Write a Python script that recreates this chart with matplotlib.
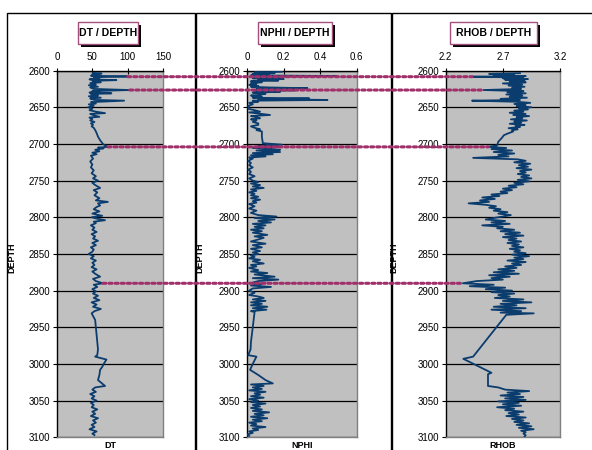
import matplotlib
matplotlib.use('Agg')
import matplotlib.pyplot as plt
from matplotlib.patches import Rectangle, ConnectionPatch

plt.rcParams['font.family'] = ['Liberation Sans', 'DejaVu Sans']

# ---------------- data ----------------
dt_depth = [2603, 2604, 2605, 2606, 2607, 2608, 2609, 2611, 2612, 2613, 2614, 2616, 2617, 2619, 2620,
            2622, 2623, 2625, 2626.5, 2628, 2629, 2630, 2631, 2632, 2634, 2635, 2637, 2638, 2640, 2641,
            2643, 2645, 2646, 2648, 2650, 2652, 2654, 2656, 2658, 2659, 2661, 2663, 2664, 2666, 2668,
            2670, 2672, 2674, 2676, 2678, 2681, 2685, 2690, 2695, 2700, 2702, 2704, 2705, 2706, 2708,
            2710, 2712, 2714, 2716, 2720, 2724, 2728, 2732, 2736, 2740, 2744, 2747, 2750, 2753, 2756,
            2760, 2763, 2766, 2770, 2774, 2777, 2779, 2781, 2784, 2786, 2789, 2792, 2795, 2798, 2800,
            2802, 2804, 2806, 2808, 2811, 2814, 2817, 2820, 2823, 2826, 2829, 2832, 2835, 2838, 2841,
            2844, 2847, 2850, 2853, 2856, 2859, 2862, 2865, 2868, 2871, 2874, 2877, 2881, 2884, 2887,
            2890, 2892, 2895, 2898, 2901, 2904, 2907, 2910, 2913, 2916, 2919, 2922, 2925, 2928, 2931,
            2940, 2950, 2960, 2970, 2980, 2988, 2990, 2994, 3000, 3004, 3008, 3015, 3022, 3030, 3032,
            3035, 3038, 3041, 3044, 3047, 3050, 3053, 3056, 3059, 3062, 3065, 3068, 3071, 3074, 3077,
            3080, 3083, 3086, 3089, 3092, 3095, 3097]
dt_values = [51, 63, 50, 58, 48, 100, 52, 60, 46, 84, 50, 62, 47, 55, 45,
             58, 47, 52, 103, 50, 60, 46, 77, 48, 58, 45, 62, 47, 53, 95,
             48, 55, 45, 52, 44, 50, 46, 55, 68, 47, 52, 60, 46, 50, 47,
             53, 48, 51, 49, 52, 54, 56, 58, 61, 65, 68, 72, 58, 66, 54,
             60, 50, 56, 48, 51, 47, 50, 48, 52, 49, 55, 51, 58, 50, 54,
             61, 52, 57, 53, 60, 55, 72, 58, 61, 56, 52, 60, 50, 64, 49,
             57, 68, 52, 55, 48, 53, 50, 56, 49, 54, 51, 58, 50, 55, 48,
             52, 50, 45, 52, 48, 55, 50, 53, 49, 56, 50, 54, 61, 51, 55,
             65, 52, 57, 50, 55, 51, 58, 52, 60, 49, 56, 51, 62, 53, 49,
             54, 55, 56, 57, 58, 57, 54, 70, 66, 64, 61, 60, 58, 68, 54,
             50, 55, 47, 53, 49, 56, 48, 52, 49, 57, 50, 54, 48, 58, 51,
             55, 49, 53, 46, 56, 50, 53]

nphi_depth = [2601.5, 2602.5, 2603.5, 2604.5, 2605.5, 2606.5, 2607.5, 2608.5, 2609.5, 2610.5, 2611.5,
              2612.5, 2613.5, 2614.5, 2616, 2617, 2618, 2619.5, 2621, 2622, 2623, 2624, 2625, 2626,
              2627, 2628, 2629, 2630, 2631.5, 2633, 2634, 2635.5, 2637, 2638, 2639, 2640, 2641, 2642.5,
              2644, 2646, 2648, 2650, 2652, 2654, 2656, 2657, 2658.5, 2660.5, 2662, 2663.5, 2665,
              2666.5, 2668, 2670, 2672, 2674, 2676, 2678, 2680, 2681, 2683, 2690, 2699, 2701, 2702.5,
              2704, 2705.5, 2707, 2708, 2709, 2711, 2712.5, 2714, 2715.5, 2717, 2718.5, 2720, 2723,
              2726, 2729, 2732, 2735, 2738, 2741, 2744, 2747, 2750, 2752, 2754, 2756, 2758, 2760, 2762,
              2764, 2766, 2768, 2770, 2772, 2774, 2776, 2778, 2780, 2782, 2785, 2788, 2791, 2794, 2797,
              2799, 2801, 2803, 2805, 2807, 2809, 2811, 2813, 2815, 2817, 2819, 2821, 2824, 2826, 2828,
              2831, 2833, 2836, 2838, 2841, 2843, 2846, 2848, 2850, 2852, 2854, 2856, 2858, 2860, 2863,
              2865, 2867, 2869, 2872, 2874, 2876, 2878, 2881, 2883, 2885, 2887, 2889, 2891, 2893, 2895,
              2897, 2900, 2903, 2906, 2908, 2910, 2912, 2914, 2916, 2918, 2920, 2922, 2924, 2926, 2928,
              2929, 2940, 2950, 2960, 2970, 2980, 2988, 2990, 3000, 3008, 3015, 3022, 3026.5, 3028,
              3030, 3032, 3034, 3036, 3038, 3040, 3042, 3044, 3046, 3048, 3050, 3052, 3054, 3056, 3058,
              3060, 3062, 3064, 3066, 3068, 3070, 3072, 3074, 3076, 3078, 3080, 3082, 3084, 3086, 3088,
              3090, 3092, 3094, 3096, 3098]
nphi_values = [0.19, 0.04, 0.15, 0.03, 0.12, 0.02, 0.49, 0.05, 0.18, 0.03, 0.2,
               0.06, 0.17, 0.02, 0.08, 0.02, 0.05, 0.01, 0.06, 0.02, 0.12, 0.33, 0.05, 0.2,
               0.26, 0.04, 0.18, 0.03, 0.1, 0.07, 0.02, 0.08, 0.03, 0.34, 0.06, 0.44, 0.03, 0.06,
               0.01, 0.03, 0.005, 0.01, 0.005, 0.04, 0.07, 0.01, 0.06, 0.125, 0.02, 0.05, 0.07,
               0.02, 0.05, 0.03, 0.06, 0.06, 0.02, 0.04, 0.07, 0.05, 0.08, 0.08, 0.085, 0.19, 0.06,
               0.17, 0.03, 0.14, 0.18, 0.05, 0.18, 0.03, 0.14, 0.02, 0.1, 0.01, 0.03, 0.005,
               0.02, 0.01, 0.03, 0.005, 0.02, 0.01, 0.04, 0.01, 0.03, 0.06, 0.02, 0.07, 0.03, 0.09, 0.02,
               0.05, 0.01, 0.04, 0.02, 0.06, 0.02, 0.07, 0.03, 0.05, 0.01, 0.04, 0.01, 0.05, 0.02, 0.06,
               0.16, 0.04, 0.15, 0.06, 0.13, 0.03, 0.1, 0.04, 0.09, 0.02, 0.08, 0.03, 0.11, 0.04, 0.09,
               0.05, 0.02, 0.1, 0.03, 0.08, 0.02, 0.07, 0.03, 0.06, 0.02, 0.04, 0.01, 0.07, 0.03, 0.09,
               0.02, 0.05, 0.01, 0.06, 0.02, 0.11, 0.04, 0.15, 0.03, 0.17, 0.06, 0.03, 0.08, 0.02, 0.13,
               0.03, 0.01, 0.04, 0.01, 0.06, 0.09, 0.03, 0.1, 0.02, 0.08, 0.02, 0.11, 0.03, 0.105, 0.02,
               0.04, 0.035, 0.03, 0.025, 0.02, 0.018, 0.005, 0.05, 0.03, 0.015, 0.06, 0.1, 0.14, 0.02,
               0.09, 0.03, 0.08, 0.01, 0.1, 0.04, 0.07, 0.02, 0.09, 0.01, 0.06, 0.02, 0.1, 0.03, 0.07,
               0.02, 0.08, 0.03, 0.12, 0.04, 0.09, 0.02, 0.11, 0.03, 0.08, 0.01, 0.05, 0.02, 0.1, 0.03,
               0.06, 0.01, 0.03, 0.0, 0.01]

rhob_depth = [2603.5, 2604.5, 2605.5, 2606.5, 2607.5, 2608.3, 2609.5, 2610.5, 2611.5, 2612.5, 2614,
              2615, 2616, 2617.5, 2619, 2620.5, 2622, 2623.5, 2625, 2626.5, 2628, 2629.5, 2631, 2632.5,
              2634, 2635.5, 2637, 2638.5, 2640, 2641, 2642.5, 2644, 2645.5, 2647, 2648.5, 2650, 2651.5,
              2653, 2654.5, 2656, 2657.5, 2659, 2660.5, 2662, 2663.5, 2665, 2666.5, 2668, 2669.5, 2671,
              2672.5, 2674, 2675.5, 2677, 2678.5, 2680, 2681.5, 2683, 2686, 2688, 2692, 2697, 2702, 2704,
              2705.5, 2707, 2709, 2711, 2713, 2715, 2717, 2719, 2721, 2723, 2725, 2727, 2729, 2731, 2733,
              2735, 2737, 2739, 2741, 2743, 2745, 2747, 2749, 2751, 2753, 2755, 2757, 2759, 2761, 2763,
              2765, 2767, 2769, 2771, 2773, 2775, 2777, 2779, 2781, 2783, 2785, 2787, 2789, 2791, 2793,
              2795, 2797, 2799, 2801, 2803, 2805, 2807, 2809, 2811, 2813, 2815, 2817, 2819, 2821, 2823,
              2825, 2827, 2829, 2831, 2833, 2835, 2837, 2839, 2841, 2843, 2845, 2847, 2849, 2851, 2853,
              2855, 2857, 2859, 2861, 2863, 2865, 2867, 2869, 2871, 2873, 2875, 2877, 2879, 2881, 2883,
              2885, 2887, 2890, 2892, 2894, 2896, 2898, 2900, 2902, 2904, 2906, 2908, 2910, 2912, 2914,
              2916, 2918, 2920, 2922, 2924, 2926, 2928, 2930, 2931, 2933, 2990, 2993, 3012, 3014, 3030,
              3032, 3035, 3037, 3039, 3041, 3043, 3045, 3047, 3049, 3051, 3053, 3055, 3057, 3059, 3061,
              3063, 3065, 3067, 3069, 3071, 3073, 3075, 3077, 3079, 3081, 3083, 3085, 3087, 3089, 3091,
              3093, 3095, 3097, 3099]
rhob_values = [2.85, 2.58, 2.8, 2.62, 2.9, 2.43, 2.88, 2.7, 2.92, 2.72, 2.89,
               2.76, 2.9, 2.7, 2.87, 2.75, 2.89, 2.78, 2.86, 2.53, 2.88, 2.74, 2.9, 2.73,
               2.87, 2.76, 2.91, 2.68, 2.85, 2.43, 2.82, 2.94, 2.8, 2.9, 2.82, 2.95, 2.84,
               2.92, 2.8, 2.88, 2.76, 2.9, 2.79, 2.93, 2.82, 2.87, 2.77, 2.91, 2.8, 2.86,
               2.76, 2.89, 2.81, 2.85, 2.75, 2.83, 2.78, 2.79, 2.74, 2.71, 2.69, 2.66, 2.65, 2.57,
               2.73, 2.6, 2.78, 2.62, 2.8, 2.66, 2.75, 2.44, 2.83, 2.9, 2.8, 2.94, 2.84, 2.92, 2.82,
               2.95, 2.85, 2.9, 2.83, 2.93, 2.86, 2.95, 2.83, 2.93, 2.8, 2.88, 2.75, 2.82, 2.7, 2.78,
               2.68, 2.74, 2.6, 2.67, 2.52, 2.63, 2.5, 2.58, 2.4, 2.55, 2.64, 2.58, 2.68, 2.62, 2.74,
               2.66, 2.77, 2.7, 2.62, 2.55, 2.72, 2.6, 2.76, 2.52, 2.7, 2.65, 2.8, 2.68, 2.85, 2.72,
               2.88, 2.7, 2.82, 2.75, 2.86, 2.74, 2.84, 2.78, 2.88, 2.76, 2.85, 2.8, 2.9, 2.78, 2.93,
               2.8, 2.88, 2.74, 2.9, 2.78, 2.86, 2.72, 2.82, 2.66, 2.8, 2.62, 2.84, 2.58, 2.76, 2.6,
               2.7, 2.47, 2.35, 2.62, 2.41, 2.72, 2.55, 2.78, 2.6, 2.8, 2.66, 2.76, 2.63, 2.88, 2.7,
               2.95, 2.68, 2.82, 2.62, 2.9, 2.6, 2.86, 2.68, 2.97, 2.73, 2.44, 2.354, 2.6, 2.57, 2.57,
               2.66, 2.72, 2.93, 2.74, 2.85, 2.68, 2.88, 2.72, 2.9, 2.66, 2.84, 2.7, 2.86, 2.65, 2.8,
               2.72, 2.88, 2.75, 2.84, 2.73, 2.9, 2.78, 2.88, 2.8, 2.93, 2.82, 2.95, 2.84, 2.97, 2.86,
               2.9, 2.88, 2.9, 2.89]

# correlation markers (depth, DT start, RHOB end)
marker_depths = [2608.3, 2626.5, 2704, 2890]
marker_dt = [100, 103, 72, 65]
marker_rhob = [2.43, 2.53, 2.575, 2.35]

titles = ['DT / DEPTH', 'NPHI / DEPTH', 'RHOB / DEPTH']
xlabels = ['DT', 'NPHI', 'RHOB']
xlims = [(0, 150), (0, 0.6), (2.2, 3.2)]
xticks = [[0, 50, 100, 150], [0, 0.2, 0.4, 0.6], [2.2, 2.7, 3.2]]
xticklabels = [['0', '50', '100', '150'], ['0', '0.2', '0.4', '0.6'], ['2.2', '2.7', '3.2']]
depth_ticks = list(range(2600, 3101, 50))

# ---------------- layout ----------------
W, H = 592, 450
fig = plt.figure(figsize=(W / 100, H / 100), dpi=100)

def fx(px):
    return px / W

def fy(py):
    return 1 - py / H

# panel frames
panels_px = [(7, 194.5), (195.5, 391), (391.5, 640)]
for (x0, x1) in panels_px:
    fig.add_artist(Rectangle((fx(x0), fy(470)), (x1 - x0) / W, (470 - 13) / H,
                             transform=fig.transFigure, fill=False, ec='black', lw=1.0, zorder=0))

axes_px = [(57, 163), (247.3, 356.7), (445.7, 560)]
top_px, bot_px = 70.6, 437.3
ylabel_x = [-0.387, -0.396, -0.417]

series = [(dt_values, dt_depth), (nphi_values, nphi_depth), (rhob_values, rhob_depth)]
axes = []
for i, (l, r) in enumerate(axes_px):
    ax = fig.add_axes([fx(l), fy(bot_px), (r - l) / W, (bot_px - top_px) / H])
    ax.set_facecolor('#C0C0C0')
    vals, deps = series[i]
    ax.plot(vals, deps, color='#0B3C6E', lw=1.3, zorder=3)
    ax.set_xlim(*xlims[i])
    ax.set_ylim(3100, 2600)
    ax.set_xticks(xticks[i])
    ax.set_xticklabels(xticklabels[i])
    ax.xaxis.tick_top()
    ax.set_yticks(depth_ticks)
    ax.set_yticklabels([str(d) for d in depth_ticks])
    ax.tick_params(axis='x', direction='inout', length=4, width=0.8, pad=4, labelsize=7, colors='black')
    ax.tick_params(axis='y', direction='out', length=3, width=0.8, pad=2, labelsize=7)
    ax.yaxis.grid(True, color='black', lw=0.9)
    ax.set_axisbelow(True)
    ax.spines['left'].set_color('black')
    ax.spines['top'].set_color('black')
    ax.spines['right'].set_color('#808080')
    ax.spines['bottom'].set_color('#808080')
    for s in ax.spines.values():
        s.set_linewidth(1.0)
    ax.xaxis.set_label_position('bottom')
    ax.set_xlabel(xlabels[i], fontsize=6.5, fontweight='bold', labelpad=3)
    ax.set_ylabel('DEPTH', fontsize=6.5, fontweight='bold')
    ax.yaxis.set_label_coords(ylabel_x[i], 0.49)
    axes.append(ax)

# title boxes
title_boxes = [(78, 138), (258, 332), (450, 537)]
for (x0, x1), t in zip(title_boxes, titles):
    y0, y1 = 22, 43.5
    fig.add_artist(Rectangle((fx(x0 + 3), fy(y1 + 3)), (x1 - x0) / W, (y1 - y0) / H,
                             transform=fig.transFigure, fc='black', ec='black', lw=0, zorder=5))
    fig.add_artist(Rectangle((fx(x0), fy(y1)), (x1 - x0) / W, (y1 - y0) / H,
                             transform=fig.transFigure, fc='white', ec='#A4507C', lw=1.0, zorder=6))
    fig.text(fx((x0 + x1) / 2), fy((y0 + y1) / 2), t, ha='center', va='center',
             fontsize=7.6, fontweight='bold', zorder=7)

# dotted correlation lines
for d, a, b in zip(marker_depths, marker_dt, marker_rhob):
    con = ConnectionPatch(xyA=(a, d), coordsA=axes[0].transData,
                          xyB=(b, d), coordsB=axes[2].transData,
                          color='#A0306A', lw=2.2, linestyle=(0, (1, 1)), zorder=10)
    fig.add_artist(con)

fig.savefig('out.png', dpi=100)
